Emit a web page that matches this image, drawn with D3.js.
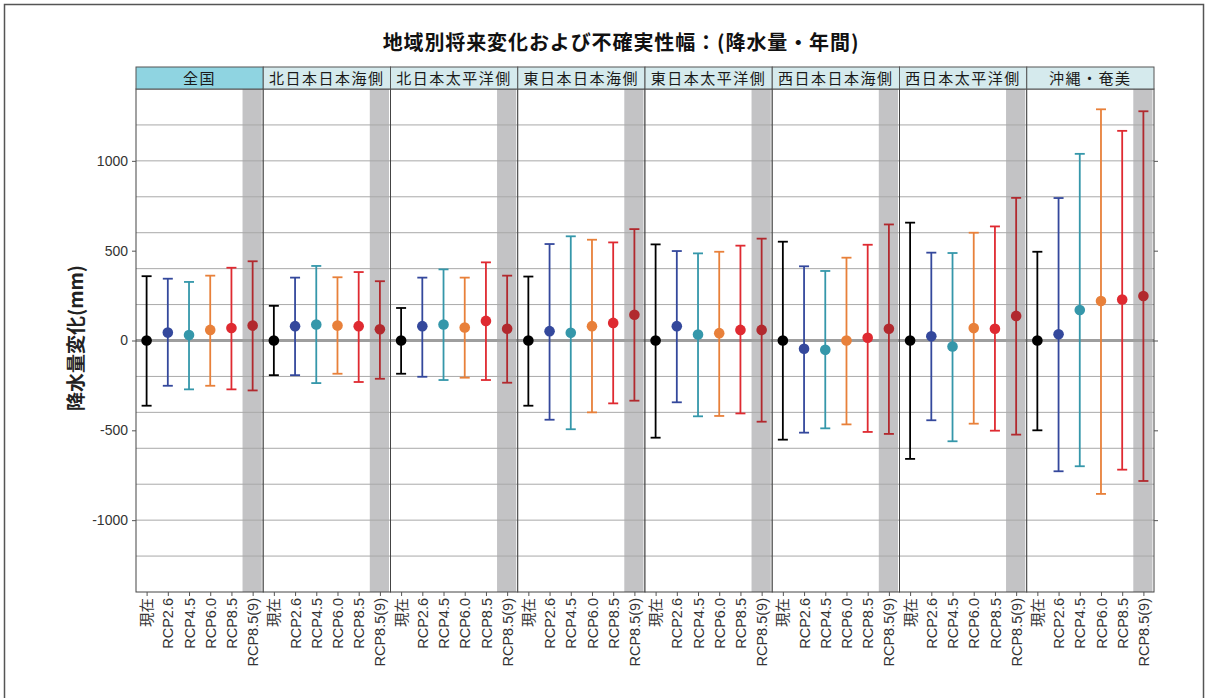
<!DOCTYPE html>
<html>
<head>
<meta charset="utf-8">
<script src="https://cdn.jsdelivr.net/npm/d3@7"></script>
<style>
  html, body { margin: 0; padding: 0; background: #ffffff; }
  svg { display: block; }
</style>
</head>
<body>
<svg id="chart" width="1208" height="698"></svg>
<script>
// Regions (facets) and scenarios (x categories within each facet)
const regions = ["全国", "北日本日本海側", "北日本太平洋側", "東日本日本海側", "東日本太平洋側", "西日本日本海側", "西日本太平洋側", "沖縄・奄美"];
const scenarios = ["現在", "RCP2.6", "RCP4.5", "RCP6.0", "RCP8.5", "RCP8.5(9)"];
const scenarioColors = ["#000000", "#34489c", "#3597aa", "#e8803a", "#df2a31", "#b1292e"];

// Annual precipitation change (mm): central estimate, upper and lower bound, one row per region
const centerValues = [
  [0, 44, 30, 59, 70, 83],
  [0, 80, 89, 83, 80, 63],
  [0, 80, 89, 72, 109, 65],
  [0, 52, 43, 80, 98, 143],
  [0, 80, 33, 41, 59, 59],
  [0, -46, -52, 0, 15, 65],
  [0, 24, -33, 69, 65, 137],
  [0, 35, 170, 220, 228, 248]
];
const upperValues = [
  [358, 344, 326, 361, 405, 441],
  [193, 350, 415, 352, 381, 330],
  [181, 350, 396, 350, 435, 361],
  [356, 537, 580, 561, 546, 620],
  [535, 498, 485, 494, 528, 567],
  [550, 413, 387, 461, 533, 646],
  [656, 489, 487, 600, 635, 794],
  [494, 793, 1039, 1287, 1167, 1276]
];
const lowerValues = [
  [-363, -252, -272, -252, -272, -278],
  [-193, -193, -237, -185, -231, -213],
  [-185, -202, -220, -207, -220, -235],
  [-363, -441, -494, -400, -350, -335],
  [-541, -344, -422, -420, -406, -452],
  [-552, -513, -489, -467, -509, -520],
  [-659, -444, -561, -463, -502, -524],
  [-500, -728, -700, -854, -719, -782]
];

// Axis ticks
const yTickValues = [-1000, -500, 0, 500, 1000];
const yGridValues = [-1200, -1000, -800, -600, -400, -200, 200, 400, 600, 800, 1000, 1200];
const yDomain = [-1400, 1400];
const highlightScenario = "RCP8.5(9)";

const titleText = "地域別将来変化および不確実性幅：(降水量・年間)";
const yLabelText = "降水量変化(mm)";

const svg = d3.select("#chart");
const cjk = "'Noto Sans CJK JP', 'Noto Sans', sans-serif";
const latin = "'Liberation Sans', Arial, 'Noto Sans CJK JP', sans-serif";

const plot = { left: 136, right: 1154, top: 89, bottom: 592 };
const stripTop = 67;

// Outer frame of the figure
svg.append("rect")
  .attr("x", 4.5).attr("y", 4.5)
  .attr("width", 1199).attr("height", 720)
  .attr("fill", "none").attr("stroke", "#555").attr("stroke-width", 1.5);

// Title
svg.append("text")
  .attr("x", 621).attr("y", 50)
  .attr("text-anchor", "middle")
  .attr("font-family", cjk).attr("font-weight", "bold")
  .attr("font-size", 20).attr("letter-spacing", 0.9).attr("fill", "#111")
  .text(titleText);

const y = d3.scaleLinear().domain(yDomain).range([plot.bottom, plot.top]);
const facetX = d3.scaleBand().domain(regions).range([plot.left, plot.right]).padding(0);
const pw = facetX.bandwidth();
const innerX = d3.scalePoint().domain(scenarios).range([0, pw]).padding(0.5);
const innerBand = d3.scaleBand().domain(scenarios).range([0, pw]).padding(0);

regions.forEach((region, ri) => {
  const g = svg.append("g").attr("transform", `translate(${facetX(region)},0)`);

  // panel background
  g.append("rect").attr("x", 0).attr("y", plot.top)
    .attr("width", pw).attr("height", plot.bottom - plot.top)
    .attr("fill", "#ffffff");

  // shaded column for the highlighted scenario
  const bw = innerBand.bandwidth();
  g.append("rect")
    .attr("x", innerBand(highlightScenario) + 0.5)
    .attr("y", plot.top)
    .attr("width", bw - 2)
    .attr("height", plot.bottom - plot.top)
    .attr("fill", "#c3c3c5");

  // horizontal gridlines
  g.selectAll("line.grid").data(yGridValues).join("line")
    .attr("class", "grid")
    .attr("x1", 0).attr("x2", pw)
    .attr("y1", d => y(d)).attr("y2", d => y(d))
    .attr("stroke", "#a9a9a9").attr("stroke-width", 1);

  // zero line
  g.append("line")
    .attr("x1", 0).attr("x2", pw)
    .attr("y1", y(0)).attr("y2", y(0))
    .attr("stroke", "#9e9e9e").attr("stroke-width", 3);

  // error bars
  const rows = scenarios.map((s, i) => ({
    s, c: centerValues[ri][i], hi: upperValues[ri][i], lo: lowerValues[ri][i], color: scenarioColors[i]
  }));
  const bars = g.selectAll("g.bar").data(rows).join("g").attr("class", "bar");
  bars.append("line")
    .attr("x1", d => innerX(d.s)).attr("x2", d => innerX(d.s))
    .attr("y1", d => y(d.hi)).attr("y2", d => y(d.lo))
    .attr("stroke", d => d.color).attr("stroke-width", 1.8);
  bars.append("line")
    .attr("x1", d => innerX(d.s) - 5).attr("x2", d => innerX(d.s) + 5)
    .attr("y1", d => y(d.hi)).attr("y2", d => y(d.hi))
    .attr("stroke", d => d.color).attr("stroke-width", 1.8);
  bars.append("line")
    .attr("x1", d => innerX(d.s) - 5).attr("x2", d => innerX(d.s) + 5)
    .attr("y1", d => y(d.lo)).attr("y2", d => y(d.lo))
    .attr("stroke", d => d.color).attr("stroke-width", 1.8);
  bars.append("circle")
    .attr("cx", d => innerX(d.s)).attr("cy", d => y(d.c))
    .attr("r", 5.3)
    .attr("fill", d => d.color);

  // panel border
  g.append("rect").attr("x", 0).attr("y", plot.top)
    .attr("width", pw).attr("height", plot.bottom - plot.top)
    .attr("fill", "none").attr("stroke", "#444").attr("stroke-width", 1);

  // strip header
  g.append("rect").attr("x", 0).attr("y", stripTop)
    .attr("width", pw).attr("height", plot.top - stripTop)
    .attr("fill", ri === 0 ? "#8fd4e1" : "#d5eaed")
    .attr("stroke", "#555").attr("stroke-width", 1);
  g.append("text")
    .attr("x", pw / 2).attr("y", (stripTop + plot.top) / 2 + 5.5)
    .attr("text-anchor", "middle")
    .attr("font-family", cjk).attr("font-size", 15)
    .attr("letter-spacing", 1.5)
    .attr("fill", "#1a1a1a")
    .text(region);

  // x axis: ticks and rotated category labels
  const xAxis = d3.axisBottom(innerX).tickSize(4).tickPadding(4);
  const ax = g.append("g").attr("transform", `translate(0,${plot.bottom})`).call(xAxis);
  ax.select(".domain").remove();
  ax.selectAll(".tick line").attr("stroke", "#555");
  ax.selectAll(".tick text")
    .attr("font-family", latin).attr("font-size", 14.5).attr("fill", "#333")
    .attr("transform", "rotate(-90)")
    .attr("text-anchor", "end")
    .attr("x", -6).attr("y", 0).attr("dy", "0.35em");
});

// y axis on the left with labels
const yAxisL = d3.axisLeft(y).tickValues(yTickValues).tickSize(4).tickPadding(4)
  .tickFormat(d => String(d));
const ayl = svg.append("g").attr("transform", `translate(${plot.left},0)`).call(yAxisL);
ayl.select(".domain").remove();
ayl.selectAll(".tick line").attr("stroke", "#555");
ayl.selectAll(".tick text")
  .attr("font-family", latin).attr("font-size", 14).attr("fill", "#333");

// y axis ticks on the right, no labels
const yAxisR = d3.axisRight(y).tickValues(yTickValues).tickSize(4).tickFormat("");
const ayr = svg.append("g").attr("transform", `translate(${plot.right},0)`).call(yAxisR);
ayr.select(".domain").remove();
ayr.selectAll(".tick line").attr("stroke", "#555");

// y axis title
svg.append("text")
  .attr("transform", "translate(83,338) rotate(-90)")
  .attr("text-anchor", "middle")
  .attr("font-family", cjk).attr("font-weight", "bold")
  .attr("font-size", 19).attr("fill", "#222")
  .text(yLabelText);
</script>
</body>
</html>
